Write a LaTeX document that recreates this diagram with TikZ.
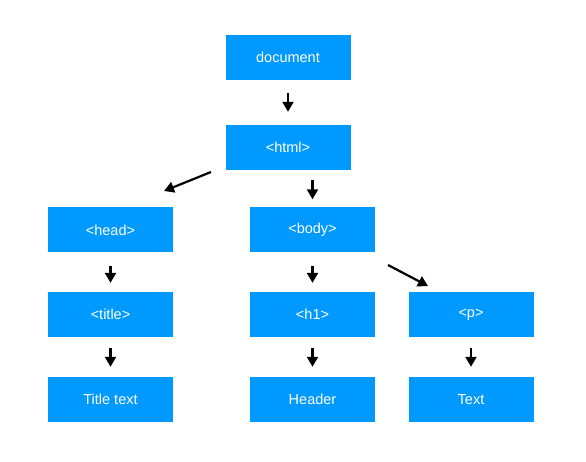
\documentclass[tikz,border=0pt]{standalone}
\usepackage{fontspec}
\setmainfont{Liberation Sans}
\usetikzlibrary{arrows.meta}
\definecolor{boxblue}{RGB}{0,153,255}
\tikzset{
  box/.style={fill=boxblue, draw=none, minimum width=125pt, minimum height=45pt, inner sep=0pt,
    text=white, font=\fontsize{14.5}{17}\selectfont},
  arr/.style={line width=2.2pt, -{Triangle[length=10pt,width=11pt]}}
}
\begin{document}
\begin{tikzpicture}[x=1pt,y=-1pt]
\useasboundingbox (0,0) rectangle (586,462);
\fill[white] (0,0) rectangle (586,462);
\node[box] (document) at (288,57.5) {document};
\node[box] (html) at (288,147.5) {<html>};
\node[box] (head) at (110.5,230) {<head>};
\node[box] (body) at (312.5,230) {<body>};
\node[box] (title) at (110.5,314.5) {<title>};
\node[box] (h1) at (312.5,314.5) {<h1>};
\node[box] (p) at (471,314.5) {<p>};
\node[box] (titletext) at (110.5,399.5) {Title text};
\node[box] (header) at (312.5,399.5) {Header};
\node[box] (text) at (471,399.5) {Text};
\coordinate (hhA) at (211,172);
\coordinate (hhB) at (164,191);
\coordinate (bpA) at (388,265);
\coordinate (bpB) at (428,286);
\draw[arr, shorten <=13pt, shorten >=13pt] (document.south) -- (html.north);
\draw[arr] (hhA) -- (hhB);
\draw[arr, shorten <=10pt, shorten >=8pt] (html.south -| body.north) -- (body.north);
\draw[arr, shorten <=13pt, shorten >=9pt] (head.south) -- (title.north);
\draw[arr, shorten <=13pt, shorten >=9pt] (body.south) -- (h1.north);
\draw[arr] (bpA) -- (bpB);
\draw[arr, shorten <=11pt, shorten >=10pt] (title.south) -- (titletext.north);
\draw[arr, shorten <=11pt, shorten >=10pt] (h1.south) -- (header.north);
\draw[arr, shorten <=11pt, shorten >=10pt] (p.south) -- (text.north);
\end{tikzpicture}
\end{document}
